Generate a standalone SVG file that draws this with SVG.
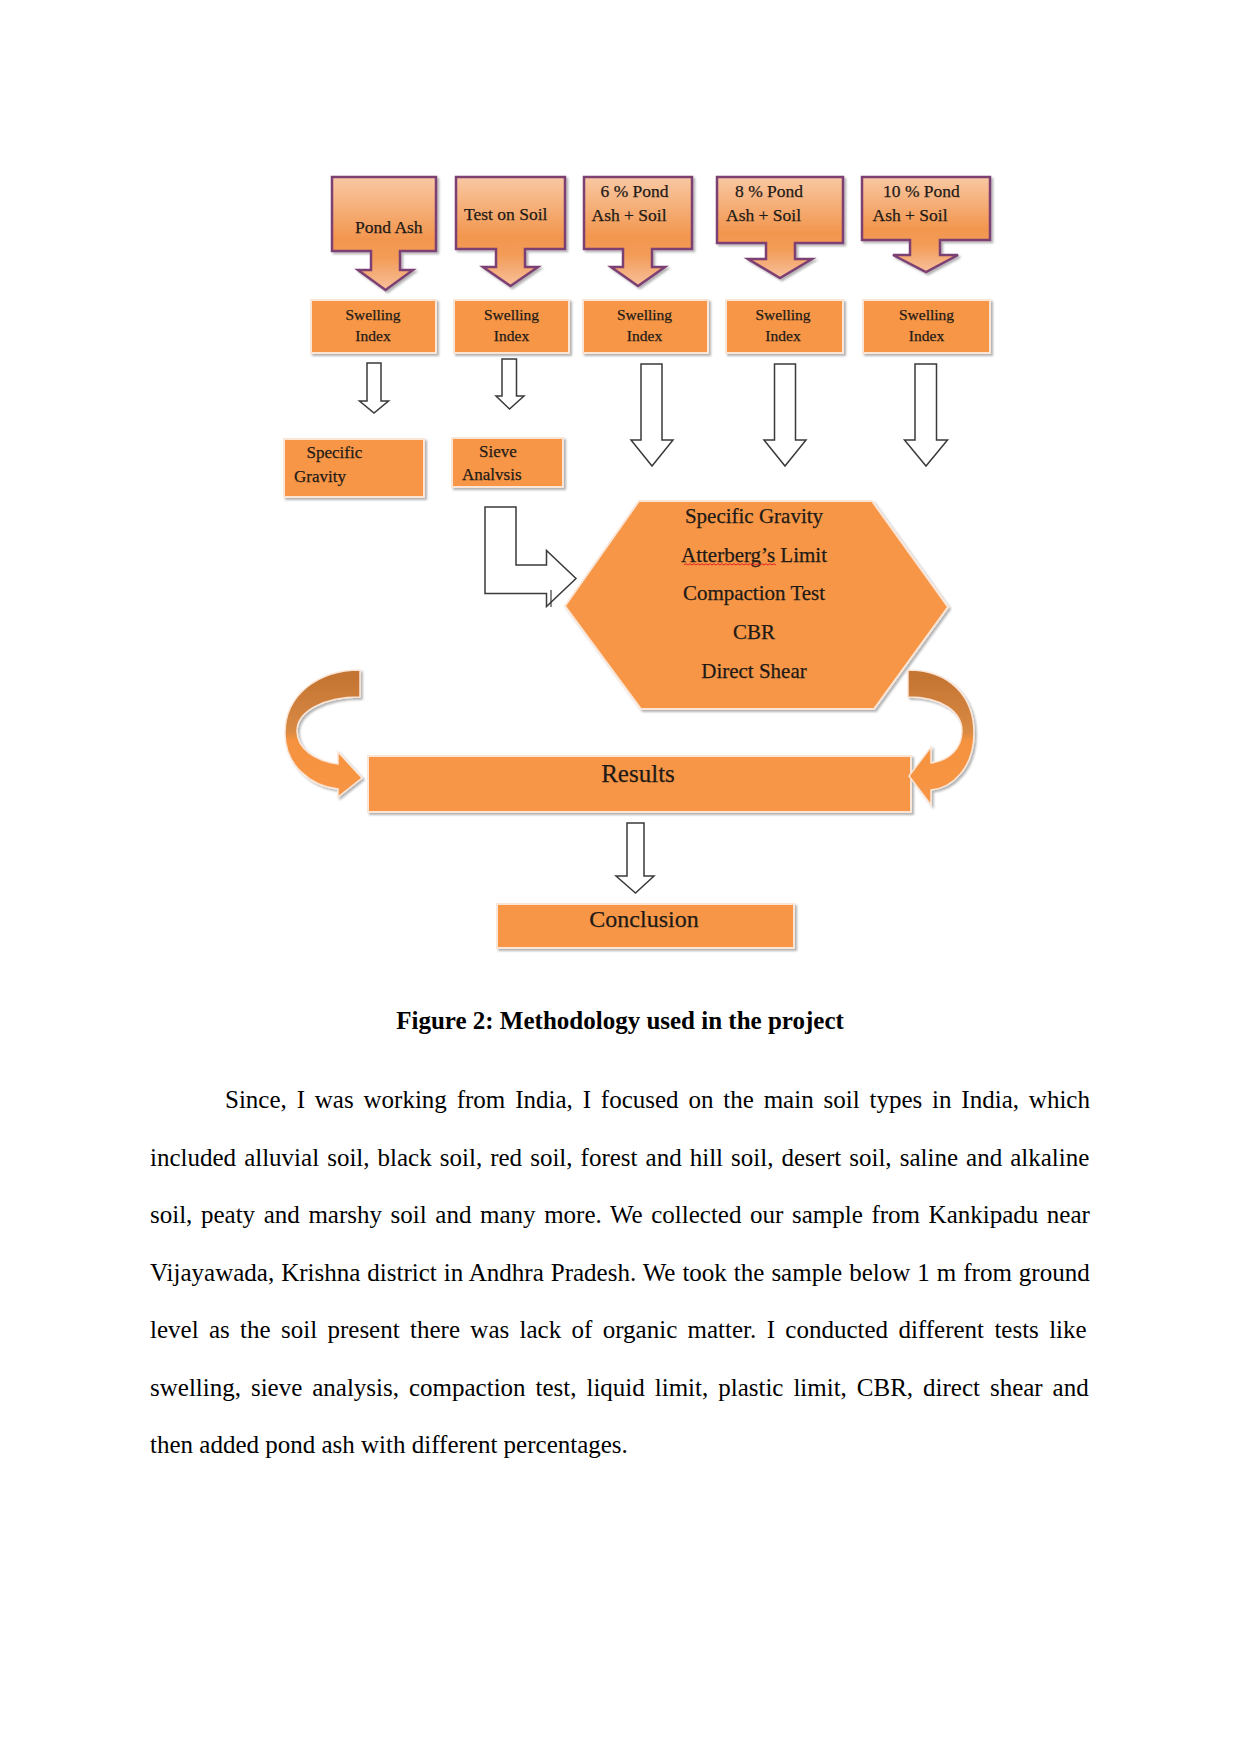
<svg xmlns="http://www.w3.org/2000/svg" width="1241" height="1754" viewBox="0 0 1241 1754">
<defs>
  <filter id="sh" x="-10%" y="-10%" width="130%" height="130%">
    <feDropShadow dx="2" dy="2" stdDeviation="1" flood-color="#000" flood-opacity="0.3"/>
  </filter>
  <linearGradient id="cg" x1="0" y1="0" x2="0" y2="1">
    <stop offset="0" stop-color="#f9c8a3"/>
    <stop offset="0.55" stop-color="#f2964e"/>
    <stop offset="0.72" stop-color="#f39c58"/>
    <stop offset="1" stop-color="#f7c09a"/>
  </linearGradient>
  <linearGradient id="rg" gradientUnits="userSpaceOnUse" x1="0" y1="670" x2="0" y2="805">
    <stop offset="0" stop-color="#c27230"/>
    <stop offset="0.46" stop-color="#d98a44"/>
    <stop offset="0.52" stop-color="#f5923f"/>
    <stop offset="1" stop-color="#f79646"/>
  </linearGradient>
  <style>
    .t { font-family: "Liberation Serif", "Times New Roman", serif; fill: #1f1a16; stroke: #1f1a16; stroke-width: 0.25; }
    .co { fill: url(#cg); stroke: #7b3f73; stroke-width: 2.5; stroke-linejoin: miter; filter: url(#sh); }
    .bx { fill: #f79646; stroke: #fbe5d6; stroke-width: 2; filter: url(#sh); }
    .ha { fill: #ffffff; stroke: #3a3a3a; stroke-width: 1.5; stroke-linejoin: miter; }
    .cv { fill: url(#rg); stroke: #fbe5d6; stroke-width: 1.5; filter: url(#sh); }
    .ct { font-size: 17.5px; }
    .sw { font-size: 15.5px; text-anchor: middle; }
    .sm { font-size: 17px; }
    .hx { font-size: 21px; text-anchor: middle; }
    .body { font-family: "Liberation Serif", "Times New Roman", serif; font-size: 25px; fill: #000; }
  </style>
</defs>
<rect x="0" y="0" width="1241" height="1754" fill="#ffffff"/>

<!-- Callout nodes -->
<g id="pond-ash">
  <path class="co" d="M332,177 H436 V251 H400 V270 H413 L385.5,290 L358,270 H371 V251 H332 Z"/>
  <text class="t ct" x="355" y="233">Pond Ash</text>
</g>
<g id="test-on-soil">
  <path class="co" d="M456,177 H565 V249 H525 V267 H538 L510.5,286 L483,267 H496 V249 H456 Z"/>
  <text class="t ct" x="464" y="220">Test on Soil</text>
</g>
<g id="pond6">
  <path class="co" d="M584,177 H692 V249 H652 V267 H665 L638,286 L611,267 H623 V249 H584 Z"/>
  <text class="t ct" x="600.5" y="196.5">6 % Pond</text>
  <text class="t ct" x="591.5" y="220.5">Ash + Soil</text>
</g>
<g id="pond8">
  <path class="co" d="M717,177 H843 V243 H795 V259 H812 L780,278 L748,259 H766 V243 H717 Z"/>
  <text class="t ct" x="735" y="196.5">8 % Pond</text>
  <text class="t ct" x="726" y="220.5">Ash + Soil</text>
</g>
<g id="pond10">
  <path class="co" d="M862,177 H990 V240 H940 V255 H958 L926,272 L893,255 H910 V240 H862 Z"/>
  <text class="t ct" x="883" y="196.5">10 % Pond</text>
  <text class="t ct" x="872.5" y="220.5">Ash + Soil</text>
</g>

<!-- Swelling index nodes -->
<g id="swell1">
  <rect class="bx" x="311" y="300" width="125" height="53"/>
  <text class="t sw" x="373" y="320">Swelling</text>
  <text class="t sw" x="373" y="340.5">Index</text>
</g>
<g id="swell2">
  <rect class="bx" x="454" y="300" width="115" height="53"/>
  <text class="t sw" x="511.5" y="320">Swelling</text>
  <text class="t sw" x="511.5" y="340.5">Index</text>
</g>
<g id="swell3">
  <rect class="bx" x="583" y="300" width="125" height="53"/>
  <text class="t sw" x="644.5" y="320">Swelling</text>
  <text class="t sw" x="644.5" y="340.5">Index</text>
</g>
<g id="swell4">
  <rect class="bx" x="726" y="300" width="117" height="53"/>
  <text class="t sw" x="783" y="320">Swelling</text>
  <text class="t sw" x="783" y="340.5">Index</text>
</g>
<g id="swell5">
  <rect class="bx" x="863" y="300" width="127" height="53"/>
  <text class="t sw" x="926.5" y="320">Swelling</text>
  <text class="t sw" x="926.5" y="340.5">Index</text>
</g>

<!-- Specific gravity and sieve -->
<g id="specific-gravity">
  <rect class="bx" x="284" y="439" width="140" height="58"/>
  <text class="t sm" x="306.5" y="458">Specific</text>
  <text class="t sm" x="294" y="481.5">Gravity</text>
</g>
<g id="sieve-analysis">
  <rect class="bx" x="452" y="438" width="111" height="49"/>
  <text class="t sm" x="479" y="456.5">Sieve</text>
  <text class="t sm" x="462" y="480">Analvsis</text>
</g>

<!-- Hexagon tests -->
<g id="tests">
  <polygon class="bx" points="565,606 639,501 872,501 948,607 874,709 641,709"/>
  <text class="t hx" x="754" y="522.5">Specific Gravity</text>
  <text class="t hx" x="754" y="561.5">Atterberg’s Limit</text>
  <path d="M684,565 l2,-1.3 2,1.3 2,-1.3 2,1.3 2,-1.3 2,1.3 2,-1.3 2,1.3 2,-1.3 2,1.3 2,-1.3 2,1.3 2,-1.3 2,1.3 2,-1.3 2,1.3 2,-1.3 2,1.3 2,-1.3 2,1.3 2,-1.3 2,1.3 2,-1.3 2,1.3 2,-1.3 2,1.3 2,-1.3 2,1.3 2,-1.3 2,1.3 2,-1.3 2,1.3 2,-1.3 2,1.3 2,-1.3 2,1.3 2,-1.3 2,1.3 2,-1.3 2,1.3 2,-1.3 2,1.3 2,-1.3 2,1.3 2,-1.3 2,1.3" fill="none" stroke="#e02020" stroke-width="1"/>
  <text class="t hx" x="754" y="600">Compaction Test</text>
  <text class="t hx" x="754" y="639">CBR</text>
  <text class="t hx" x="754" y="678">Direct Shear</text>
</g>

<!-- Results and conclusion -->
<g id="results">
  <rect class="bx" x="368" y="756" width="543" height="56"/>
  <text class="t" x="638" y="781.5" font-size="25" text-anchor="middle">Results</text>
</g>
<g id="conclusion">
  <rect class="bx" x="497" y="904" width="297" height="44"/>
  <text class="t" x="644" y="927" font-size="24" text-anchor="middle">Conclusion</text>
</g>

<!-- Connectors -->
<g id="connectors">
  <path class="ha" d="M367,363 H381 V401 H388.5 L374,413 L359.5,401 H367 Z"/>
  <path class="ha" d="M502,359 H516.5 V396 H524 L509.5,409 L496,396 H502 Z"/>
  <path class="ha" d="M641,364 H662 V440 H673 L652,466 L631,440 H641 Z"/>
  <path class="ha" d="M774.5,364 H795.5 V440 H806 L785,466 L764,440 H774.5 Z"/>
  <path class="ha" d="M915,364 H936.5 V440 H947.5 L926,466 L904.5,440 H915 Z"/>
  <path class="ha" d="M627,823 H644 V876 H654 L635.5,893 L616,876 H627 Z"/>
  <path class="ha" d="M485,507 H516 V565 H546.5 V550.5 L576,578.5 L546.5,606.5 V593.5 H485 Z"/>
  <path d="M551,590 V607" stroke="#3a3a3a" stroke-width="1.2" fill="none"/>
  <path class="cv" d="M360,670 C318,670 285,695 285,733 C285,765 310,786 338,789 L338,797 L362,778 L338,752 L338,764 C314,761 297,748 297,731 C297,712 322,697 360,697 Z"/>
  <path class="cv" d="M908,670 C950,670 974,697 974,733 C974,768 952,788 931,790 L931,805 L909,776 L931,747 L931,763 C948,761 962,749 962,731 C962,712 942,697 908,697 Z"/>
</g>

<!-- Caption and body text -->
<text class="body" x="620" y="1029" font-weight="bold" text-anchor="middle">Figure 2: Methodology used in the project</text>
<text class="body" x="225" y="1108" word-spacing="3.6">Since, I was working from India, I focused on the main soil types in India, which</text>
<text class="body" x="150" y="1165.5" word-spacing="1.8">included alluvial soil, black soil, red soil, forest and hill soil, desert soil, saline and alkaline</text>
<text class="body" x="150" y="1223" word-spacing="2.35">soil, peaty and marshy soil and many more. We collected our sample from Kankipadu near</text>
<text class="body" x="150" y="1280.5" word-spacing="0.75">Vijayawada, Krishna district in Andhra Pradesh. We took the sample below 1 m from ground</text>
<text class="body" x="150" y="1338" word-spacing="4.1">level as the soil present there was lack of organic matter. I conducted different tests like</text>
<text class="body" x="150" y="1395.5" word-spacing="3.7">swelling, sieve analysis, compaction test, liquid limit, plastic limit, CBR, direct shear and</text>
<text class="body" x="150" y="1453">then added pond ash with different percentages.</text>
</svg>
